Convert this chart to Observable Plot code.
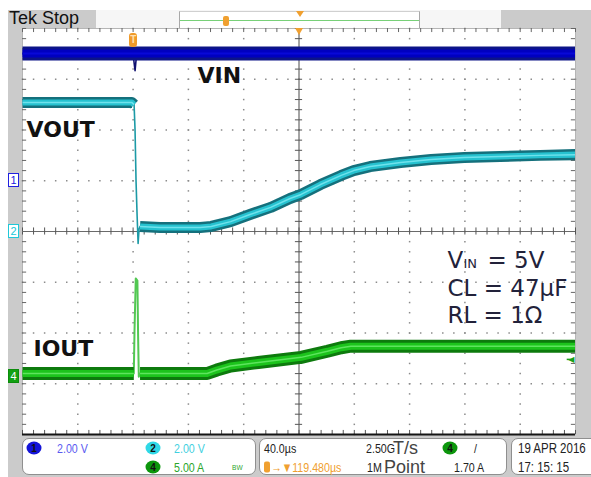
<!DOCTYPE html>
<html>
<head>
<meta charset="utf-8">
<script src="https://cdn.jsdelivr.net/npm/d3@7"></script>
<script src="https://cdn.jsdelivr.net/npm/@observablehq/plot@0.6"></script>
<style>
html,body{margin:0;padding:0;background:#fff;}
#page{position:relative;width:591px;height:477px;overflow:hidden;background:#fff;font-family:"Liberation Sans",Arial,sans-serif;}
#page > *{position:absolute;}
.box{background:#fff;border:1px solid #8f8f8f;border-radius:7px;box-sizing:border-box;}
.t{white-space:nowrap;font-size:13px;line-height:13px;transform:translateY(-50%) scaleX(.82);transform-origin:0 50%;color:#222;}
.chip{width:15px;height:13px;border-radius:50%;font-size:10px;line-height:13px;text-align:center;color:#111;font-weight:bold;transform:translate(-50%,-50%);}
.mk{width:11px;height:14px;box-sizing:border-box;font-size:11px;line-height:12px;text-align:center;transform:translateY(-50%);background:#fff;}
</style>
</head>
<body>
<div id="page"></div>
<script>
// ---- scope settings ----
const TIME_PER_DIV = 40;          // µs per division
const CENTER_T = 119.48;          // time at screen centre, relative to trigger (µs)
const chScale = {1: 2, 2: 2, 4: 5};      // V/div, V/div, A/div
const chOffset = {1: 1, 2: 0, 4: -2.86}; // ground marker position (div)

// ---- traces ----
const vinTime  = [-80.5, -0.5, 0.3, 0.9, 1.6, 3, 319.5];
const vinVolts = [5.01, 5.01, 4.6, 4.34, 4.75, 5.01, 5.01];

const voutTime  = [-80.5, -1.3, 0.2, 0.9, 1.6, 2.4, 3.1, 3.8, 4.5, 19, 48, 56, 70, 84, 99, 113, 121, 135, 150, 159, 171, 193, 215, 239, 265, 294, 319.5];
const voutVolts = [5.08, 5.08, 5.0, 3.98, 2.0, 0.6, -0.47, 0.1, 0.2, 0.16, 0.16, 0.2, 0.39, 0.67, 0.95, 1.3, 1.46, 1.85, 2.21, 2.4, 2.56, 2.72, 2.84, 2.92, 2.96, 3.0, 3.03];

const ioutTime = [-80.5, 0.0, 0.5, 1.4, 2.6, 3.1, 3.6, 4.5, 53, 60, 70, 90, 121, 140, 150, 157, 319.5];
const ioutAmps = [0.31, 0.31, 4.5, 9.67, 9.47, 4.0, 0.0, 0.31, 0.31, 0.65, 1.05, 1.4, 1.9, 2.5, 2.85, 3.0, 3.0];

const trig4Level = 1.70; // A

// ---- labels ----
const traceLabels = ["VIN", "VOUT", "IOUT"];
const traceLabelTime = [46, -77.6, -72.6];
const traceLabelDiv = [2.92, 1.87, -2.46];

const noteLines = ["= 5V", "CL = 47µF", "RL = 1Ω"];
const noteTime = 226.9;
const noteDiv = [-0.71, -1.27, -1.80];

// ---- build tables ----
const toDiv = (ch, v) => chOffset[ch] + v / chScale[ch];
const vin = vinTime.map((t, i) => ({t, y: toDiv(1, vinVolts[i]), dip: t > 0 && t < 2}));
const seg = (t, a, b) => t <= a ? "pre" : t >= b ? "post" : "edge";
const vout = voutTime.map((t, i) => ({t, y: toDiv(2, voutVolts[i]), seg: seg(t, 0.2, 4.5)}));
const iout = ioutTime.map((t, i) => ({t, y: toDiv(4, ioutAmps[i]), seg: seg(t, 0.0, 4.5)}));

const xDomain = [CENTER_T - 5 * TIME_PER_DIV, CENTER_T + 5 * TIME_PER_DIV];
const minorX = d3.range(-25, 26).map(i => CENTER_T + i * TIME_PER_DIV / 5);
const minorY = d3.range(-20, 21).map(i => i / 5);
const majorX = [-4, -3, -2, -1, 1, 2, 3, 4].map(i => CENTER_T + i * TIME_PER_DIV);
const majorY = [-3, -2, -1, 1, 2, 3];
const dots = [];
for (const x of majorX) for (const y of minorY) dots.push({x, y});
for (const y of majorY) for (const x of minorX) dots.push({x, y});

const page = document.getElementById("page");
function el(style, text, cls) {
  const e = document.createElement("div");
  if (cls) e.className = cls;
  Object.assign(e.style, style);
  if (text != null) e.textContent = text;
  page.appendChild(e);
  return e;
}

// backgrounds
el({left: "8px", top: "10px", width: "583px", height: "467px", background: "#cbcbcb"});
el({left: "96px", top: "10px", width: "405px", height: "18px", background: "#f6f6f6"});
el({left: "179px", top: "11px", width: "241px", height: "17px", borderLeft: "1px solid #a8a8a8", borderRight: "1px solid #a8a8a8", borderTop: "1px solid #d0d0d0", boxSizing: "border-box", background: "#fff"});
el({left: "180px", top: "20px", width: "239px", height: "1px", background: "#78d078"});
el({left: "223px", top: "16px", width: "6px", height: "10px", background: "#f0a030", borderRadius: "2px"});
el({left: "296px", top: "11px", width: 0, height: 0, borderLeft: "4px solid transparent", borderRight: "4px solid transparent", borderTop: "6px solid #f0a030"});
el({left: "9px", top: "7px", font: "18px 'Liberation Sans', Arial, sans-serif", color: "#111", lineHeight: "22px"}, "Tek Stop");

const lineOpts = {x: "t", y: "y", strokeLinejoin: "round", strokeLinecap: "butt", clip: true};
const chart = Plot.plot({
  width: 591, height: 477,
  marginLeft: 22, marginRight: 16, marginTop: 28, marginBottom: 43,
  x: {domain: xDomain, axis: null},
  y: {domain: [-4, 4], axis: null},
  style: {background: "transparent", overflow: "visible"},
  marks: [
    Plot.frame({fill: "white", stroke: "#b5b5b5"}),
    Plot.dot(dots, {x: "x", y: "y", r: 0.85, symbol: "square", fill: "#8c8c8c"}),
    Plot.ruleX([CENTER_T], {stroke: "#4a4a4a"}),
    Plot.ruleY([0], {stroke: "#6a6a6a"}),
    Plot.ruleX(minorX, {y1: -0.07, y2: 0.07, stroke: "#555"}),
    Plot.ruleY(minorY, {x1: CENTER_T - 2.6, x2: CENTER_T + 2.6, stroke: "#555"}),
    Plot.ruleX(minorX, {y1: 4, y2: 3.92, stroke: "#666"}),
    Plot.ruleX(minorX, {y1: -4, y2: -3.92, stroke: "#555"}),
    Plot.ruleY(minorY, {x1: xDomain[0], x2: xDomain[0] + 3, stroke: "#666"}),
    Plot.ruleY(minorY, {x1: xDomain[1], x2: xDomain[1] - 3, stroke: "#666"}),
    Plot.ruleY([-4], {stroke: "#151515", strokeWidth: 2}),
    // VIN
    Plot.line(vin, {...lineOpts, stroke: "#101070", strokeWidth: 1.6}),
    Plot.line(vin, {...lineOpts, filter: d => !d.dip, stroke: "#0c1488", strokeWidth: 14}),
    Plot.line(vin, {...lineOpts, filter: d => !d.dip, stroke: "#0000c0", strokeWidth: 8}),
    Plot.line(vin, {...lineOpts, filter: d => !d.dip, stroke: "#0808d8", strokeWidth: 2}),
    // VOUT
    Plot.line(vout, {...lineOpts, stroke: "#1c9aa6", strokeWidth: 1.6}),
    Plot.line(vout, {...lineOpts, z: "seg", filter: d => d.seg !== "edge", stroke: "#15707c", strokeWidth: 11}),
    Plot.line(vout, {...lineOpts, z: "seg", filter: d => d.seg !== "edge", stroke: "#26c2d0", strokeWidth: 6}),
    Plot.line(vout, {...lineOpts, z: "seg", filter: d => d.seg !== "edge", stroke: "#6fe2ec", strokeWidth: 1.5}),
    // IOUT
    Plot.line(iout, {...lineOpts, stroke: "#52c852", strokeWidth: 2}),
    Plot.line(iout, {...lineOpts, z: "seg", filter: d => d.seg !== "edge", stroke: "#0d7a0d", strokeWidth: 13}),
    Plot.line(iout, {...lineOpts, z: "seg", filter: d => d.seg !== "edge", stroke: "#1cc41c", strokeWidth: 7}),
    Plot.line(iout, {...lineOpts, z: "seg", filter: d => d.seg !== "edge", stroke: "#5ee45e", strokeWidth: 1.5}),
    // ch4 trigger level arrow
    Plot.text([trig4Level], {x: xDomain[1], y: d => toDiv(4, d), text: () => "◀", textAnchor: "end", dx: -1, fill: "#1aa01a", fontSize: 8, fontFamily: "DejaVu Sans"}),
    Plot.ruleY([trig4Level], {y: d => toDiv(4, d), x1: xDomain[1] - 6, x2: xDomain[1] - 1, stroke: "#1aa01a", strokeWidth: 1.5}),
    // trace names
    Plot.text(traceLabels, {x: (d, i) => traceLabelTime[i], y: (d, i) => traceLabelDiv[i], text: d => d, textAnchor: "start", lineAnchor: "bottom", fontFamily: "DejaVu Sans", fontWeight: "bold", fontSize: 22, fill: "#111"}),
    // conditions
    Plot.text(["V"], {x: noteTime, y: noteDiv[0], text: d => d, textAnchor: "start", lineAnchor: "bottom", fontFamily: "DejaVu Sans", fontSize: 23, fill: "#22223a"}),
    Plot.text(["IN"], {x: noteTime, y: noteDiv[0], text: d => d, textAnchor: "start", lineAnchor: "bottom", dx: 16, dy: 0, fontFamily: "DejaVu Sans", fontSize: 13, fill: "#22223a"}),
    Plot.text(noteLines, {x: noteTime, y: (d, i) => noteDiv[i], text: d => d, textAnchor: "start", lineAnchor: "bottom", fontFamily: "DejaVu Sans", fontSize: 23, fill: "#22223a",
      filter: (d, i) => i > 0}),
    Plot.text(noteLines.slice(0, 1), {x: noteTime, y: noteDiv[0], text: d => d, textAnchor: "start", lineAnchor: "bottom", dx: 40, fontFamily: "DejaVu Sans", fontSize: 23, fill: "#22223a"})
  ]
});
chart.style.left = "0px";
chart.style.top = "0px";
page.appendChild(chart);

const xs = chart.scale("x"), ys = chart.scale("y");
// trigger marker and centre marker on top edge
const tx = xs.apply(0);
el({left: (tx - 4) + "px", top: "33px", width: "8px", height: "14px", background: "#f09a28", borderRadius: "3px", color: "#ffe0b0", font: "bold 10px 'Liberation Sans'", lineHeight: "14px", textAlign: "center"}, "T");
const cx = xs.apply(CENTER_T);
el({left: (cx - 4) + "px", top: "28px", width: 0, height: 0, borderLeft: "4px solid transparent", borderRight: "4px solid transparent", borderTop: "7px solid #f0a030"});

// channel ground markers
el({left: "8px", top: ys.apply(chOffset[1]) + "px", border: "1px solid #2020e0", color: "#2020e0"}, "1", "mk");
el({left: "8px", top: ys.apply(chOffset[2]) + "px", border: "1px solid #20c8d8", color: "#20c8d8"}, "2", "mk");
el({left: "8px", top: ys.apply(chOffset[4]) + "px", border: "1px solid #0c8c0c", background: "#12a012", color: "#fff"}, "4", "mk");

// status bar
el({left: "22px", top: "438px", width: "234px", height: "37px"}, null, "box");
el({left: "259px", top: "438px", width: "248px", height: "37px"}, null, "box");
el({left: "511px", top: "438px", width: "100px", height: "37px"}, null, "box");
const r1 = "448px", r2 = "467px";
el({left: "34px", top: r1, background: "#1414d8"}, "1", "chip");
el({left: "57px", top: r1, color: "#5a5af0"}, "2.00 V", "t");
el({left: "153px", top: r1, background: "#2fd8e6"}, "2", "chip");
el({left: "174px", top: r1, color: "#3fd0e0"}, "2.00 V", "t");
el({left: "153px", top: r2, background: "#0c960c"}, "4", "chip");
el({left: "174px", top: r2, color: "#2aa52a"}, "5.00 A", "t");
el({left: "232px", top: r2, color: "#2aa52a", fontSize: "8px"}, "BW", "t");
el({left: "264px", top: r1}, "40.0µs", "t");
el({left: "366px", top: r1}, "2.50G", "t");
el({left: "393px", top: r1, fontSize: "18px", lineHeight: "18px", color: "#444", transform: "translateY(-50%)"}, "T/s", "t");
el({left: "450px", top: r1, background: "#0c960c"}, "4", "chip");
el({left: "474px", top: r1}, "/", "t");
el({left: "264px", top: r2, width: "6px", height: "11px", background: "#f0a030", borderRadius: "2px", transform: "translateY(-50%)"});
el({left: "271px", top: r2, color: "#f0a030"}, "→▼119.480µs", "t");
el({left: "367px", top: r2}, "1M", "t");
el({left: "384px", top: r2, fontSize: "18px", lineHeight: "18px", color: "#444", transform: "translateY(-50%)"}, "Point", "t");
el({left: "454px", top: r2}, "1.70 A", "t");
el({left: "518px", top: r1, fontSize: "14px"}, "19 APR 2016", "t");
el({left: "518px", top: r2, fontSize: "14px"}, "17: 15: 15", "t");
</script>
</body>
</html>
